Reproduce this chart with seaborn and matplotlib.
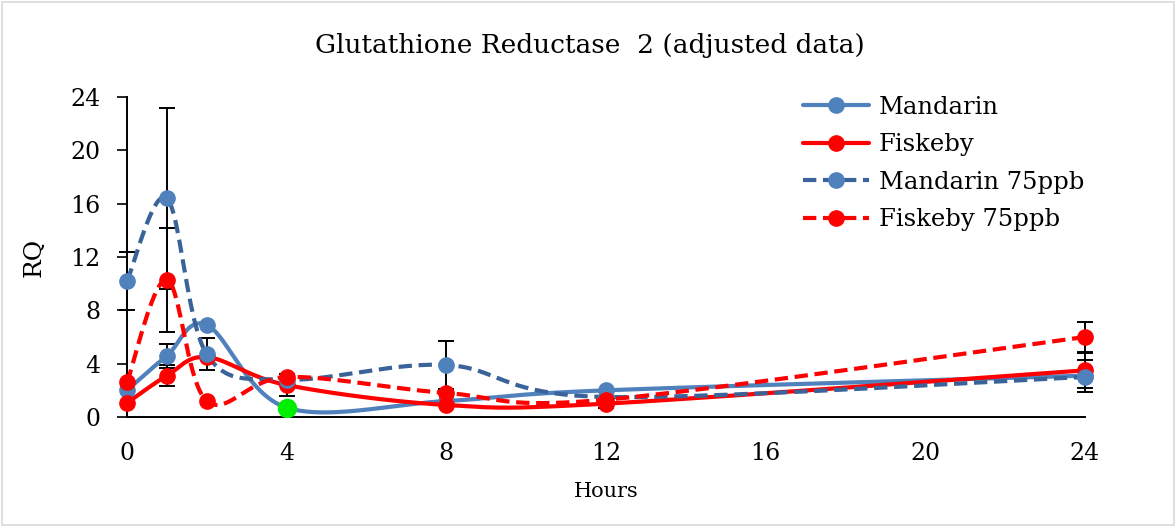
import numpy as np
import pandas as pd
import matplotlib
matplotlib.use("Agg")
import matplotlib.pyplot as plt
from matplotlib.lines import Line2D
from matplotlib.patches import Rectangle
import seaborn as sns

# ---- data ----
hours = [0, 1, 2, 4, 8, 12, 24]
mandarin = [2.0, 4.6, 6.9, 0.7, 1.2, 2.0, 3.1]
fiskeby = [1.05, 3.1, 4.5, 2.4, 0.9, 1.0, 3.5]
mandarin_75 = [10.2, 16.4, 4.7, 2.8, 3.9, 1.5, 3.0]
fiskeby_75 = [2.6, 10.3, 1.2, 3.0, 1.8, 1.3, 6.0]

mandarin_err = [0.0, 0.9, 0.0, 0.0, 0.0, 0.0, 1.2]
fiskeby_err = [0.0, 0.8, 0.0, 0.8, 0.0, 0.0, 1.3]
mandarin_75_err = [2.2, 6.8, 1.2, 0.0, 1.8, 0.0, 0.0]
fiskeby_75_err = [0.0, 3.9, 0.0, 0.0, 0.0, 0.6, 1.1]

series_names = ["Mandarin", "Fiskeby", "Mandarin 75ppb", "Fiskeby 75ppb"]
y_ticks = [0, 4, 8, 12, 16, 20, 24]
x_ticks = [0, 4, 8, 12, 16, 20, 24]


def smooth(xs, ys, n=40):
    """Excel-like smoothed line (Catmull-Rom as cubic Bezier)."""
    p = np.column_stack([xs, ys]).astype(float)
    p = np.vstack([p[0], p, p[-1]])
    out = []
    t = np.linspace(0, 1, n)[:, None]
    for i in range(1, len(p) - 2):
        p0, p1, p2, p3 = p[i - 1], p[i], p[i + 1], p[i + 2]
        c1 = p1 + (p2 - p0) / 6
        c2 = p2 - (p3 - p1) / 6
        seg = ((1 - t) ** 3) * p1 + 3 * ((1 - t) ** 2) * t * c1 \
            + 3 * (1 - t) * t ** 2 * c2 + t ** 3 * p2
        out.append(seg)
    return np.vstack(out)


sns.set_theme(style="white")
plt.rcParams["font.family"] = ["DejaVu Serif"]
plt.rcParams["text.color"] = "black"
plt.rcParams["axes.labelcolor"] = "black"
plt.rcParams["xtick.color"] = "black"
plt.rcParams["ytick.color"] = "black"

fig = plt.figure(figsize=(11.76, 5.27), dpi=100)
ax = fig.add_axes([127 / 1176, 1 - 417 / 527, (1085 - 127) / 1176, 320 / 527])

blue = "#4F81BD"
dark_blue = "#3A6399"
red = "#FF0000"

styles = [
    (mandarin, mandarin_err, blue, blue, "-"),
    (fiskeby, fiskeby_err, red, red, "-"),
    (mandarin_75, mandarin_75_err, dark_blue, blue, (0, (3.2, 1.6))),
    (fiskeby_75, fiskeby_75_err, red, red, (0, (3.2, 1.6))),
]

# error bars first (behind lines)
for vals, err, lc, mc, ls in styles:
    for x, y, e in zip(hours, vals, err):
        if e > 0:
            ax.errorbar(x, y, yerr=e, fmt="none", ecolor="black", elinewidth=1.4,
                        capsize=6, capthick=1.4, zorder=2, clip_on=False)

handles = []
for name, (vals, err, lc, mc, ls) in zip(series_names, styles):
    curve = smooth(hours, vals)
    df = pd.DataFrame({"x": curve[:, 0], "y": curve[:, 1]})
    sns.lineplot(data=df, x="x", y="y", ax=ax, color=lc, linewidth=3,
                 linestyle=ls, sort=False, estimator=None, zorder=3)
    ax.plot(hours, vals, "o", color=mc, markersize=11, zorder=4, clip_on=False)
    handles.append(Line2D([0], [0], color=lc, linewidth=3, linestyle=ls,
                          marker="o", markersize=11, markerfacecolor=mc,
                          markeredgecolor=mc))

# highlighted point at 4 h for Mandarin
ax.plot(hours[3], mandarin[3], "o", color="#00EE00", markersize=13, zorder=5)

ax.set_xlim(0, 24)
ax.set_ylim(0, 24)
ax.set_xticks(x_ticks)
ax.set_yticks(y_ticks)
ax.tick_params(axis="y", direction="out", length=7, width=1.2, color="black",
               labelsize=17, left=True, pad=12)
ax.tick_params(axis="x", length=0, labelsize=17, pad=18)
for s in ["top", "right"]:
    ax.spines[s].set_visible(False)
for s in ["left", "bottom"]:
    ax.spines[s].set_color("black")
    ax.spines[s].set_linewidth(1.4)
ax.set_xlabel("Hours", fontsize=15, labelpad=12)
ax.set_ylabel("RQ", fontsize=18, labelpad=18)

fig.text(590 / 1176, 1 - 45 / 527, "Glutathione Reductase  2 (adjusted data)",
         ha="center", va="center", fontsize=19)

leg = ax.legend(handles, series_names, loc="upper left",
                bbox_to_anchor=(0.696, 1.035),
                frameon=False, fontsize=17.5, handlelength=2.7,
                labelspacing=0.6, handletextpad=0.4, borderaxespad=0)

fig.add_artist(Rectangle((0.002, 0.003), 0.996, 0.994, transform=fig.transFigure,
                         fill=False, edgecolor="#D9D9D9", linewidth=1.2))

fig.savefig("out.png", dpi=100)
